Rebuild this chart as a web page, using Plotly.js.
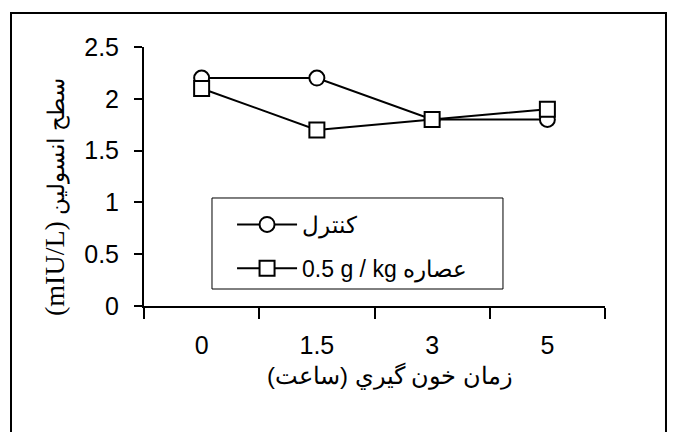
<!DOCTYPE html>
<html>
<head>
<meta charset="utf-8">
<script src="https://cdn.plot.ly/plotly-3.0.1.min.js"></script>
<style>html,body{margin:0;padding:0;background:#fff}#chart{width:673px;height:432px}</style>
</head>
<body>
<div id="chart"></div>
<script>
var categories = ['0', '1.5', '3', '5'];
var controlValues = [2.2, 2.2, 1.8, 1.8];
var extractValues = [2.1, 1.7, 1.8, 1.9];
var seriesNames = ['کنترل', '0.5 g / kg عصاره'];
var yTicks = [0, 0.5, 1, 1.5, 2, 2.5];
var xTitle = '\u202Bزمان خون گيري (ساعت)\u202C';
var yTitleArabic = 'سطح انسولين';
var yTitleUnit = '(mIU/L)';

var markerBase = {color: 'white', size: 15, line: {color: 'black', width: 2}};

var traces = [
  {
    x: categories, y: controlValues, type: 'scatter', mode: 'lines+markers',
    name: seriesNames[0], legendgroup: 'a',
    line: {color: 'black', width: 2},
    marker: Object.assign({symbol: 'circle'}, markerBase)
  },
  {
    x: categories, y: extractValues, type: 'scatter', mode: 'lines+markers',
    name: seriesNames[1], legendgroup: 'b',
    line: {color: 'black', width: 2},
    marker: Object.assign({symbol: 'square'}, markerBase)
  }
];

var axisFont = {family: 'Liberation Sans, Arial, sans-serif', size: 25, color: 'black'};

var layout = {
  width: 673, height: 432,
  margin: {l: 144, r: 68, t: 47, b: 126},
  paper_bgcolor: 'white', plot_bgcolor: 'white',
  showlegend: true,
  xaxis: {
    type: 'category', range: [-0.5, 3.5], tickson: 'boundaries',
    ticks: 'outside', ticklen: 11, tickwidth: 2, tickcolor: 'black',
    showline: true, linewidth: 2, linecolor: 'black',
    showgrid: false, zeroline: false, tickfont: axisFont,
    ticklabelstandoff: 16
  },
  yaxis: {
    range: [0, 2.5], tickvals: yTicks,
    ticks: 'outside', ticklen: 8, tickwidth: 2, tickcolor: 'black',
    showline: true, linewidth: 2, linecolor: 'black',
    showgrid: false, zeroline: false, tickfont: axisFont,
    ticklabelstandoff: 10
  },
  legend: {
    x: 0.191, y: 0.3977, xanchor: 'left', yanchor: 'top',
    borderwidth: 0, bgcolor: 'rgba(0,0,0,0)',
    font: {family: 'Liberation Sans, Arial, sans-serif', size: 23, color: 'black'},
    tracegroupgap: 11, itemwidth: 60
  },
  shapes: [
    {
      type: 'rect', xref: 'paper', yref: 'paper',
      x0: -0.2885, x1: 1.1323, y0: -0.55, y1: 1.1313,
      line: {color: 'black', width: 2}, fillcolor: 'rgba(0,0,0,0)', layer: 'below'
    },
    {
      type: 'rect', xref: 'paper', yref: 'paper',
      x0: 0.1475, x1: 0.7787, y0: 0.0656, y1: 0.417,
      line: {color: 'black', width: 1}, fillcolor: 'white', layer: 'above'
    }
  ],
  annotations: [
    {
      xref: 'paper', yref: 'paper', x: -0.193, y: 0.421,
      xanchor: 'center', yanchor: 'middle', textangle: -90, showarrow: false,
      text: '<span style="font-family:Liberation Serif,Times New Roman,serif;font-size:28px">' + yTitleUnit + '</span> ' + yTitleArabic,
      font: {family: 'Liberation Sans, Arial, sans-serif', size: 23, color: 'black'}
    },
    {
      xref: 'paper', yref: 'paper', x: 0.5336, y: -0.27,
      xanchor: 'center', yanchor: 'middle', showarrow: false,
      text: xTitle,
      font: {family: 'Liberation Sans, Arial, sans-serif', size: 24, color: 'black'}
    }
  ]
};

Plotly.newPlot('chart', traces, layout, {staticPlot: true, displayModeBar: false});
</script>
</body>
</html>
